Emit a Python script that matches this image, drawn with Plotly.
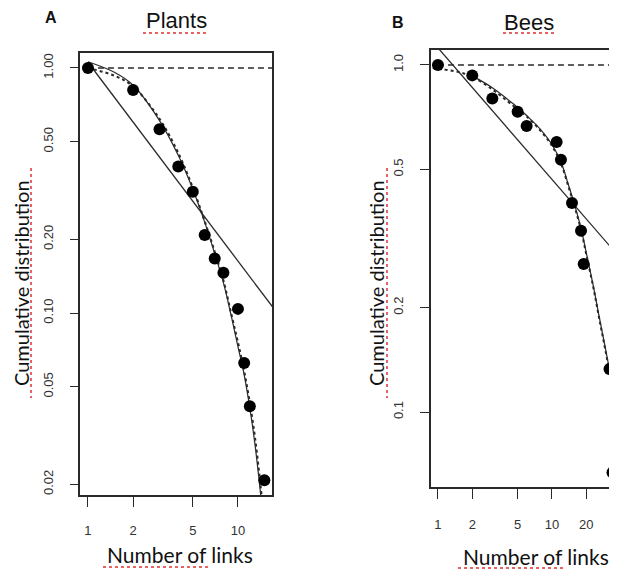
import math
import plotly.graph_objects as go

# ---------------- data ----------------
plants_links = [1, 2, 3, 4, 5, 6, 7, 8, 10, 11, 12, 15]
plants_cum = [1.0, 0.8125, 0.5625, 0.396, 0.3125, 0.208, 0.167, 0.146, 0.104, 0.0625, 0.0417, 0.0208]

plants_pl_x = [1, 17]
plants_pl_y = [1.055, 0.106]

plants_fit_x = [1, 1.5, 2, 3, 4, 5, 6, 7, 8, 9, 10, 11, 12, 13, 14, 15]
plants_fit1_y = [1.06, 0.96, 0.85, 0.61, 0.44, 0.32, 0.235, 0.175, 0.133, 0.098, 0.073, 0.056, 0.041, 0.029, 0.0195, 0.013]
plants_fit2_y = [1.0, 0.93, 0.84, 0.62, 0.45, 0.325, 0.237, 0.178, 0.136, 0.10, 0.076, 0.058, 0.043, 0.031, 0.021, 0.014]

bees_links = [1, 2, 3, 5, 6, 11, 12, 15, 18, 19, 32, 34]
bees_cum = [1.0, 0.933, 0.8, 0.733, 0.667, 0.6, 0.533, 0.4, 0.333, 0.267, 0.133, 0.067]

bees_pl_x = [1, 40]
bees_pl_y = [1.12, 0.277]

bees_fit1_x = [0.9, 1, 1.5, 2, 3, 4, 5, 6, 8, 10, 12, 14, 16, 18, 20, 23, 26, 30, 34, 38]
bees_fit1_y = [0.98, 0.975, 0.955, 0.925, 0.85, 0.79, 0.745, 0.71, 0.645, 0.585, 0.52, 0.445, 0.385, 0.335, 0.285, 0.23, 0.186, 0.146, 0.116, 0.092]
bees_fit2_x = [2, 3, 4, 5, 6, 8, 10, 12, 14, 16, 18, 20, 23, 26, 30, 34, 38]
bees_fit2_y = [0.93, 0.86, 0.80, 0.755, 0.715, 0.65, 0.59, 0.525, 0.45, 0.39, 0.338, 0.288, 0.232, 0.188, 0.148, 0.118, 0.094]

ref_x = [1, 60]
ref_y = [1.0, 1.0]

x_ticks_a = [1, 2, 5, 10]
x_ticks_b = [1, 2, 5, 10, 20]
y_ticks_a = [0.02, 0.05, 0.1, 0.2, 0.5, 1.0]
y_ticks_a_text = ["0.02", "0.05", "0.10", "0.20", "0.50", "1.00"]
y_ticks_b = [0.1, 0.2, 0.5, 1.0]
y_ticks_b_text = ["0.1", "0.2", "0.5", "1.0"]

# ---------------- figure ----------------
OFF = 8            # page body margin offset
W, H = 617 - OFF, 570 - OFF
LINE = "#2a2a2a"
fig = go.Figure()


def add_panel(xa, ya, links, cum, plx, ply, f1x, f1y, f2x, f2y):
    fig.add_trace(go.Scatter(x=ref_x, y=ref_y, mode="lines", xaxis=xa, yaxis=ya,
                             line=dict(color=LINE, width=1.5, dash="6px,4px")))
    fig.add_trace(go.Scatter(x=plx, y=ply, mode="lines", xaxis=xa, yaxis=ya,
                             line=dict(color=LINE, width=1.3)))
    fig.add_trace(go.Scatter(x=f1x, y=f1y, mode="lines", xaxis=xa, yaxis=ya,
                             line=dict(color=LINE, width=2, dash="dot", shape="spline")))
    fig.add_trace(go.Scatter(x=f2x, y=f2y, mode="lines", xaxis=xa, yaxis=ya,
                             line=dict(color=LINE, width=1.2, shape="spline")))
    fig.add_trace(go.Scatter(x=links, y=cum, mode="markers", xaxis=xa, yaxis=ya,
                             marker=dict(color="black", size=12), cliponaxis=False))


add_panel("x", "y", plants_links, plants_cum, plants_pl_x, plants_pl_y,
          plants_fit_x, plants_fit2_y, plants_fit_x, plants_fit1_y)
add_panel("x2", "y2", bees_links, bees_cum, bees_pl_x, bees_pl_y,
          bees_fit1_x, bees_fit1_y, bees_fit2_x, bees_fit2_y)

tickfont = dict(family="Liberation Sans, Arial", size=13, color="#333")
common = dict(type="log", showgrid=False, zeroline=False, showline=True, automargin=False,
              linecolor=LINE, linewidth=1.8, ticks="outside", tickcolor=LINE,
              tickwidth=1.4, tickfont=tickfont)


def px(x):
    return (x - OFF) / W


def py(y):
    return 1 - (y - OFF) / H


fig.update_layout(
    width=W, height=H, margin=dict(l=0, r=0, t=0, b=0, autoexpand=False),
    paper_bgcolor="white", plot_bgcolor="white", showlegend=False,
    xaxis=dict(common, domain=[px(80), px(272)], range=[-0.053, 1.227], anchor="y",
               mirror=True, tickvals=x_ticks_a, ticktext=[str(v) for v in x_ticks_a],
               ticklen=10, ticklabelstandoff=12),
    yaxis=dict(common, domain=[py(495), py(53)], range=[math.log10(0.0181), 0.061], anchor="x",
               mirror=True, tickvals=y_ticks_a, ticktext=y_ticks_a_text, tickangle=-90,
               ticklen=8, ticklabelstandoff=12),
    xaxis2=dict(common, domain=[px(431), 1.0], range=[-0.061, 1.571], anchor="y2",
                mirror=True, tickvals=x_ticks_b, ticktext=[str(v) for v in x_ticks_b],
                ticklen=10, ticklabelstandoff=14),
    yaxis2=dict(common, domain=[py(487), py(50)], range=[-1.216, 0.043], anchor="x2",
                mirror=False, tickvals=y_ticks_b, ticktext=y_ticks_b_text, tickangle=-90,
                ticklen=9, ticklabelstandoff=12),
)

ann = []


def text(x, y, s, size, family, bold=False, angle=0, color="#111"):
    ann.append(dict(x=px(x), y=py(y), xref="paper", yref="paper", text=(f"<b>{s}</b>" if bold else s),
                    showarrow=False, textangle=angle, xanchor="center", yanchor="middle",
                    borderpad=0, font=dict(size=size, family=family, color=color)))


text(51, 17, "A", 16, "Liberation Sans, Arial", bold=True)
text(398, 22, "B", 16, "Liberation Sans, Arial", bold=True)
text(176, 21, "Plants", 22, "Liberation Sans, Arial")
text(529, 22, "Bees", 22, "Liberation Sans, Arial")
text(180, 554, "Number of links", 21, "Lato")
text(536, 556, "Number of links", 21, "Lato")
text(21, 283, "Cumulative distribution", 20, "Lato", angle=-90)
text(376, 283, "Cumulative distribution", 20, "Lato", angle=-90)
fig.update_layout(annotations=ann)

# spell-check squiggles
squiggles = [
    (143, 33, 209, 33), (503, 33, 557, 33),
    (31, 168, 31, 398), (387, 168, 387, 398),
    (103, 567, 210, 567), (458, 568, 565, 568),
]
for x0, y0, x1, y1 in squiggles:
    fig.add_shape(type="line", xref="paper", yref="paper", x0=px(x0), y0=py(y0), x1=px(x1), y1=py(y1),
                  line=dict(color="#e03030", width=1.5, dash="dot"))

fig.write_html("out.html")
